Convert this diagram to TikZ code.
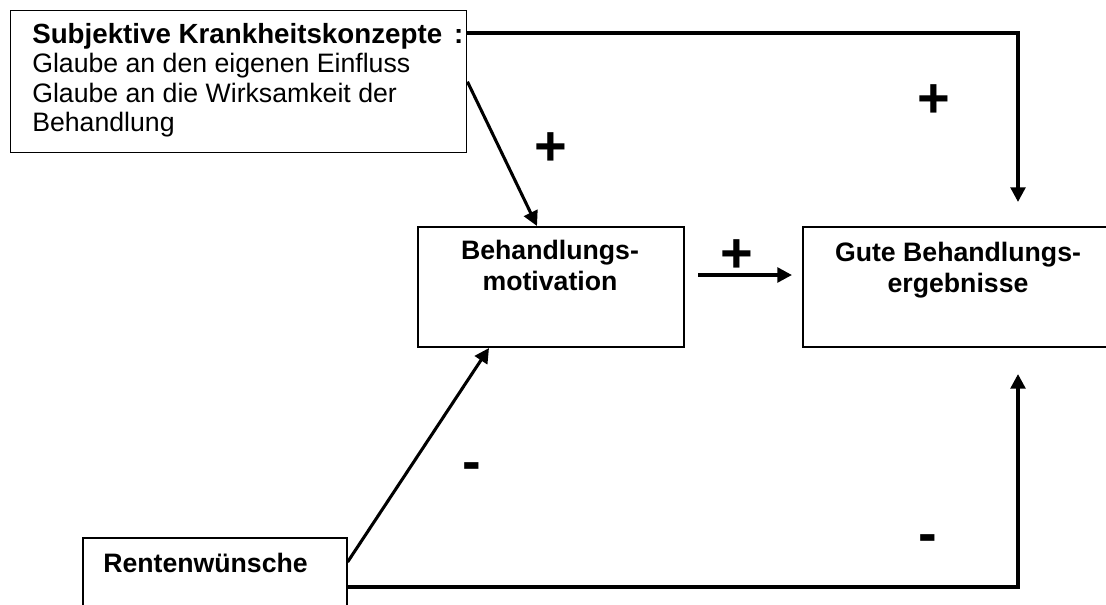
\documentclass[tikz,border=0pt]{standalone}
\usepackage{fontspec}
\setmainfont{Liberation Sans}
\usetikzlibrary{arrows.meta}
\begin{document}
\begin{tikzpicture}[x=0.75pt,y=-0.75pt,
  box/.style={draw=black, line width=#1, fill=none, inner sep=0pt, anchor=north west},
  boxtext/.style={inner sep=0pt, font=\fontsize{20}{22}\selectfont},
  conn/.style={line width=2.6pt, -{Triangle[length=11pt,width=11pt]}},
  sign/.style={inner sep=0pt, font=\fontsize{42}{42}\selectfont\bfseries}]
  % canvas
  \fill[white] (0,0) rectangle (1106,604);
  \clip (0,0) rectangle (1106,604);

  % boxes
  \node[box=1.1pt, minimum width=342pt, minimum height=106.5pt] (A) at (10,10) {};
  \node[box=1.5pt, minimum width=199.5pt, minimum height=90pt] (B) at (417,226) {};
  \node[box=1.5pt, minimum width=234pt, minimum height=90pt] (C) at (802,226) {};
  \node[box=1.2pt, minimum width=198pt, minimum height=80pt] (D) at (82,537) {};

  % box texts
  \node[boxtext, anchor=north west, align=left] (At) at (32,23)
    {{\fontsize{20.8}{22}\selectfont\bfseries Subjektive Krankheitskonzepte\hspace{0.15em} :}\\Glaube an den eigenen Einfluss\\Glaube an die Wirksamkeit der\\Behandlung};
  \node[boxtext, anchor=north, align=center, font=\fontsize{20}{23}\selectfont\bfseries] (Bt) at (550,240)
    {Behandlungs-\\motivation};
  \node[boxtext, anchor=north, align=center, font=\fontsize{20}{23}\selectfont\bfseries] (Ct) at (958,242)
    {Gute Behandlungs-\\ergebnisse};
  \node[boxtext, anchor=north west, font=\fontsize{20}{22}\selectfont\bfseries] (Dt) at (103,553)
    {Rentenwünsche};

  % connectors
  \draw[conn, shorten >=18pt] (A.east |- 0,33) -| (1018,0 |- C.north);
  \draw[conn, line width=2.3pt] (A.east) -- (537,0 |- B.north);
  \draw[conn, shorten <=9.75pt, shorten >=7.5pt] (B.east |- 0,275) -- (C.west |- 0,275);
  \draw[conn, line width=2.3pt] (D.east |- 0,562) -- (489,0 |- B.south);
  \draw[conn, shorten >=19.5pt] (D.east |- 0,587) -| (1018,0 |- C.south);

  % signs
  \node[sign] (s1) at (934,101) {+};
  \node[sign] (s2) at (551,149) {+};
  \node[sign] (s3) at (737,256) {+};
  \node[sign] (s4) at (472,472) {-};
  \node[sign] (s5) at (928,544) {-};
\end{tikzpicture}
\end{document}
